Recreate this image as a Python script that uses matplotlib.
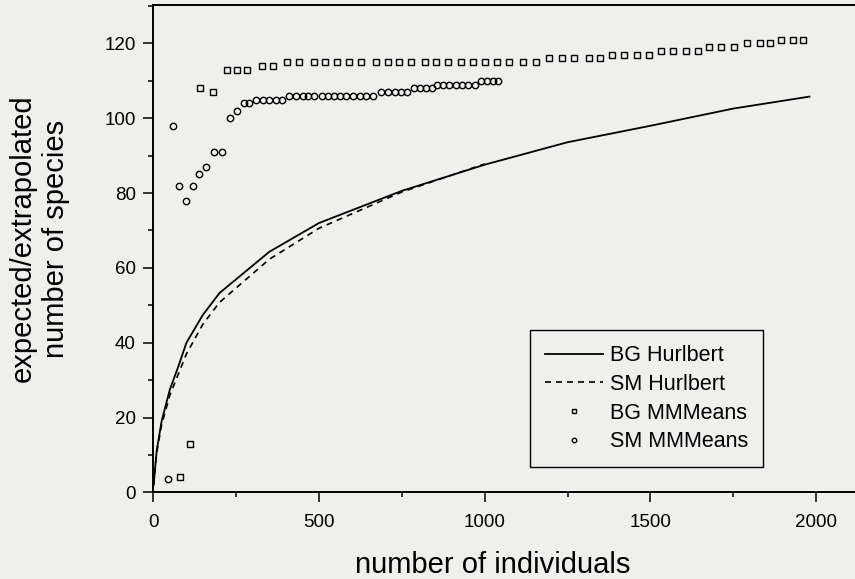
import matplotlib
matplotlib.use("Agg")
import matplotlib.pyplot as plt
from matplotlib.ticker import MultipleLocator

plt.rcParams['font.family'] = ['Liberation Sans', 'DejaVu Sans']

# BG Hurlbert rarefaction curve
bg_hurl_x = [1, 10, 25, 50, 75, 100, 150, 200, 350, 500, 750, 1000, 1250, 1500, 1750, 1980]
bg_hurl_y = [2, 11, 19, 27.5, 33.5, 40, 47.5, 53.3, 64.3, 72, 80.6, 87.6, 93.6, 98, 102.6, 105.8]

# SM Hurlbert rarefaction curve
sm_hurl_x = [1, 10, 25, 50, 75, 100, 150, 200, 350, 500, 750, 1000]
sm_hurl_y = [2, 10.5, 18, 26, 31.5, 37, 45, 50.8, 62.3, 70.6, 80.3, 87.8]

# BG MMMeans extrapolations
bg_mm_x = [80, 111, 140, 180, 223, 252, 282, 327, 362,
           404, 441, 486, 518, 555, 591, 626, 672, 707, 742, 778, 820, 854, 888, 928, 964,
           1001, 1038, 1074, 1117, 1155,
           1195, 1232, 1269, 1315, 1348,
           1383, 1420, 1460, 1497,
           1532, 1569, 1607, 1643,
           1678, 1713, 1752,
           1791, 1831, 1861,
           1894, 1929, 1961]
bg_mm_y = [4, 13, 108, 107, 113, 113, 113, 114, 114,
           115, 115, 115, 115, 115, 115, 115, 115, 115, 115, 115, 115, 115, 115, 115, 115,
           115, 115, 115, 115, 115,
           116, 116, 116, 116, 116,
           117, 117, 117, 117,
           118, 118, 118, 118,
           119, 119, 119,
           120, 120, 120,
           121, 121, 121]

# SM MMMeans extrapolations
sm_mm_x = [43, 60, 78, 98, 119, 138, 159, 184, 207, 231, 253, 274, 290,
           310, 332, 350, 370, 389,
           410, 431, 451, 468, 486, 508, 526, 544, 563, 581, 602, 624, 642, 662,
           686, 709, 729, 746, 766,
           787, 805, 823, 840,
           857, 873, 893, 913, 932, 950, 971,
           989, 1006, 1024, 1041]
sm_mm_y = [3.5, 98, 82, 78, 82, 85, 87, 91, 91, 100, 102, 104, 104,
           105, 105, 105, 105, 105,
           106, 106, 106, 106, 106, 106, 106, 106, 106, 106, 106, 106, 106, 106,
           107, 107, 107, 107, 107,
           108, 108, 108, 108,
           109, 109, 109, 109, 109, 109, 109,
           110, 110, 110, 110]

bg = '#efefec'
fig = plt.figure(figsize=(8.55, 5.79), dpi=100, facecolor=bg)
W, H = 855, 579
left_px, bottom_px, top_px = 153.3, 492.3, 5.0
ax = fig.add_axes([left_px / W, 1 - bottom_px / H, 1 - left_px / W, (bottom_px - top_px) / H])
ax.set_facecolor(bg)

ax.plot(bg_hurl_x, bg_hurl_y, color='black', lw=1.3, label='BG Hurlbert')
ax.plot(sm_hurl_x, sm_hurl_y, color='black', lw=1.2, linestyle=(0, (3.6, 3.0)), label='SM Hurlbert')
ax.plot(bg_mm_x, bg_mm_y, linestyle='none', marker='s', ms=4.8, mfc='none', mec='black',
        mew=1.0, label='BG MMMeans')
ax.plot(sm_mm_x, sm_mm_y, linestyle='none', marker='o', ms=4.6, mfc='none', mec='black',
        mew=1.0, label='SM MMMeans')

ax.set_xlim(0, (W - left_px) / 0.3314)
ax.set_ylim(0, (bottom_px - top_px) / 3.74)

ax.xaxis.set_major_locator(MultipleLocator(500))
ax.xaxis.set_minor_locator(MultipleLocator(250))
ax.yaxis.set_major_locator(MultipleLocator(20))
ax.yaxis.set_minor_locator(MultipleLocator(10))
ax.tick_params(which='major', direction='out', length=7.5, width=1.1, labelsize=13.5)
ax.tick_params(which='minor', direction='out', length=3.8, width=1.1)
ax.tick_params(axis='x', which='major', pad=8)
ax.tick_params(axis='y', which='major', pad=5)
ax.tick_params(top=False, right=False, which='both')

for s in ['left', 'bottom', 'top']:
    ax.spines[s].set_linewidth(1.4)
ax.spines['right'].set_visible(False)

fig.text(493 / W, 1 - 573 / H, 'number of individuals', ha='center', va='baseline', fontsize=21)
fig.text(39 / W, 1 - 238.5 / H, 'expected/extrapolated\nnumber of species', rotation=90,
         ha='center', va='center', multialignment='center', fontsize=21, linespacing=1.25)

leg = ax.legend(loc='upper left', bbox_to_anchor=(530 / W, 1 - 330 / H),
                bbox_transform=fig.transFigure, borderaxespad=0, fontsize=15.5,
                frameon=True, fancybox=False, edgecolor='black', facecolor=bg,
                framealpha=1, handlelength=2.7, handletextpad=0.3, labelspacing=0.36,
                borderpad=0.7, markerscale=0.7)
leg.get_frame().set_linewidth(1.0)

fig.savefig('out.png', dpi=100, facecolor=bg)
